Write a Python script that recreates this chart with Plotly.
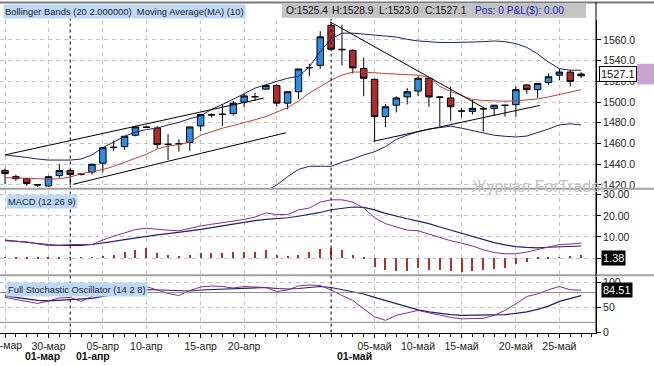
import plotly.graph_objects as go

# ---------------- data ----------------
open_ = [1434, 1428, 1426, 1420.2, 1419, 1429, 1434, 1430.5, 1432.5, 1441,
         1456, 1457, 1468, 1476, 1475, 1459, 1459.5, 1461, 1477, 1487.5,
         1488, 1489, 1500, 1505, 1512.5, 1516, 1499, 1510, 1533, 1535.5,
         1574, 1551, 1550, 1532.5, 1522, 1486, 1497, 1505, 1510.6, 1523,
         1505, 1504, 1491.5, 1491, 1493.7, 1493.7, 1497, 1497.5, 1516.6, 1512,
         1519, 1526, 1529, 1525.4]
high = [1436, 1430, 1426.5, 1421, 1429, 1440, 1435, 1431, 1440.5, 1456.5,
        1463, 1467, 1477, 1476.5, 1477, 1469, 1464, 1476, 1488, 1489,
        1498, 1501, 1508, 1509, 1516, 1517.5, 1510, 1532, 1537, 1568.5,
        1577, 1574.8, 1551, 1543, 1522.5, 1498, 1505.6, 1513.5, 1525, 1523.5,
        1505.3, 1515, 1494.6, 1502, 1494, 1497, 1497.5, 1515, 1517, 1518,
        1527.6, 1532, 1531, 1528.9]
low = [1421, 1424, 1419, 1418, 1418, 1427, 1420, 1429, 1430, 1432,
       1453, 1454, 1467, 1475, 1455, 1444, 1452, 1453, 1472, 1485,
       1477, 1487, 1495, 1501, 1512, 1495.5, 1493, 1503, 1525, 1532,
       1549, 1535.5, 1527.6, 1505.6, 1462, 1475.7, 1490, 1497.7, 1505.6, 1495.5,
       1476.7, 1482, 1485, 1488, 1471.6, 1486.7, 1486, 1486, 1508, 1504,
       1516.6, 1521, 1515, 1523.0]
close = [1431, 1426, 1421.5, 1420, 1428, 1434, 1430, 1430.3, 1440, 1456,
         1456.4, 1467, 1476, 1475.6, 1459, 1459.3, 1459.8, 1476, 1488, 1487.8,
         1488.3, 1499, 1506, 1505.3, 1516, 1499, 1510, 1532, 1533.4, 1563,
         1551, 1550.6, 1533, 1523, 1486, 1495.5, 1504, 1510, 1523, 1505,
         1504.6, 1495.5, 1491.3, 1494, 1493.5, 1497, 1496.8, 1512, 1512, 1518,
         1524.5, 1529, 1520, 1527.1]

ma10 = [1427, 1427, 1426.5, 1426, 1425.5, 1426, 1427.6, 1430.8, 1432.6, 1434.8,
        1438, 1442, 1445.8, 1449.6, 1454.7, 1457.5, 1459, 1461.6, 1467.9, 1471.6,
        1474.8, 1477.3, 1479.8, 1483, 1486, 1490, 1494.6, 1501, 1508.7, 1515,
        1521.3, 1526, 1529, 1529, 1528, 1527.6, 1527, 1526.7, 1526, 1523.8,
        1515, 1510.3, 1506.2, 1502.5, 1501.5, 1500.9, 1500.9, 1501.2, 1501.8, 1503,
        1505, 1507.2, 1509.4, 1512]
bb_upper = [1449, 1448, 1446.5, 1445, 1444, 1444, 1444, 1445, 1449, 1456,
            1461.6, 1467, 1471, 1473.5, 1474.8, 1478, 1480.4, 1484, 1486.7, 1493,
            1497.7, 1502.5, 1508, 1513.5, 1517, 1520, 1523, 1525, 1534, 1549,
            1561, 1566.5, 1566.6, 1566, 1564.7, 1563.8, 1562.8, 1560.6, 1559, 1558.4,
            1557.5, 1557.5, 1557.5, 1558, 1558.4, 1559, 1558.4, 1556.5, 1552.8, 1546.5,
            1538.6, 1532.3, 1530.8, 1530.8]
bb_lower = [1405, 1404, 1403, 1402, 1402, 1403, 1404, 1405, 1406, 1406,
            1406, 1405, 1404, 1404, 1405, 1406, 1407, 1408, 1409, 1410,
            1410, 1411, 1412, 1413, 1414, 1420, 1428, 1435, 1438, 1438,
            1438, 1442, 1445, 1449, 1452, 1457, 1464, 1468, 1471.6, 1474,
            1475.7, 1476.7, 1474.8, 1472.6, 1470.4, 1468, 1467, 1466.3, 1467.2, 1470.4,
            1474, 1478, 1479, 1478]

macd = [8.2, 7.9, 7.6, 6.7, 5.9, 6.0, 6.4, 6.4, 6.4, 8.5,
        10.4, 11.9, 13.5, 14.1, 13.5, 13.2, 12.9, 14.1, 15.2, 16.0,
        16.7, 17.5, 18.3, 19.4, 21.4, 20.6, 20.6, 22.8, 23.7, 26.5,
        27.6, 27.6, 26.5, 23.7, 19.1, 16.3, 14.7, 13.2, 12.9, 11.3,
        9.8, 8.2, 7.0, 5.7, 3.9, 2.6, 2.0, 2.0, 2.8, 3.9,
        5.1, 6.4, 6.6, 7.1]
signal = [8.5, 7.9, 7.3, 6.8, 6.4, 6.0, 5.9, 6.0, 6.4, 7.0,
          7.9, 8.7, 9.5, 10.4, 11.0, 11.6, 12.1, 12.9, 13.6, 14.4,
          15.3, 16.3, 17.1, 17.7, 18.3, 18.6, 19.1, 19.8, 20.6, 21.6,
          22.9, 23.7, 24.2, 24.0, 22.8, 21.2, 19.8, 18.6, 17.5, 16.3,
          14.7, 13.2, 11.6, 10.1, 8.5, 7.3, 6.2, 5.4, 5.0, 4.8,
          5.1, 5.4, 5.6, 5.7]
hist = [0.2, -0.3, -0.5, -0.6, -0.4, -0.2, 0.1, 0.2, 0.3, 1.0,
        1.5, 2.5, 3.5, 4.5, 2.0, 1.3, 0.8, 1.5, 2.2, 2.0,
        2.2, 2.8, 2.5, 2.8, 3.5, 1.5, 0.9, 1.5, 2.5, 4.0,
        4.5, 3.6, 1.5, -0.3, -4.2, -5.7, -6.5, -6.5, -5.0, -5.7,
        -5.7, -6.5, -7.0, -6.5, -5.7, -5.4, -5.0, -3.0, -1.9, -0.8,
        -0.3, 0.2, 0.4, 1.38]

stoch_k = [70, 66, 62, 58, 63, 69, 70, 62, 72, 80,
           86, 90, 92, 92, 85, 78, 74, 84, 91, 93,
           92, 89, 92, 91, 90, 82, 85, 93, 95, 94,
           85, 74, 64, 47, 31, 24, 34, 39, 44, 39,
           34, 30, 27, 27, 28, 34, 44, 57, 72, 77,
           85.5, 92, 85.5, 84.51]
stoch_d = [73, 70, 67, 64, 63, 64, 66, 66, 68, 72,
           76, 80, 84, 86, 85, 84, 83, 83, 85, 86,
           87, 88, 89, 89, 90, 88, 87, 88, 90, 92,
           90, 85.5, 81.6, 77, 70, 64, 57, 51, 45, 41,
           37.5, 35.5, 34, 34, 34, 35, 35.5, 38, 41, 46,
           52.6, 62, 68.4, 73.7]

tick_idx = [0, 4, 9, 13, 18, 22, 25, 34, 38, 42, 47, 51]
tick_text = ["25-мар", "30-мар", "05-апр", "10-апр", "15-апр", "20-апр", "",
             "05-май", "10-май", "15-май", "20-май", "25-май"]
month_idx = [1.3, 6, 30]
month_text = ["01-мар", "01-апр", "01-май"]
month_line_idx = [6, 30]

price_ticks = [1420, 1440, 1460, 1480, 1500, 1520, 1540, 1560]
macd_ticks = [0, 10, 20, 30]
stoch_ticks = [0, 50, 100]
stoch_levels = [20, 80]

trend_x = [[0, 23.8], [6.3, 25.85], [29.9, 44.3], [33.9, 49.2]]
trend_y = [[1449, 1503.8], [1420.7, 1470.4], [1577.5, 1493], [1462.2, 1496.8]]

info_items = ["O:1525.4", "H:1528.9", "L:1523.0", "C:1527.1", "Pos: 0 P&amp;L($): 0.00"]
info_colors = ["#111", "#111", "#111", "#111", "#2323b8"]
info_px = [285, 331, 378, 424, 474]

# ---------------- layout helpers ----------------
W, H = 654, 366
PR = 596  # right edge of plotting area (px)


def py(px):
    return 1 - px / H


idx = list(range(len(close)))
FONT = "Liberation Sans, Arial, sans-serif"
GRID = "#c6c6c6"
NAVY = "#1f1f78"
PURPLE = "#8a2a8e"

fig = go.Figure()

fig.add_trace(go.Candlestick(
    x=idx, open=open_, high=high, low=low, close=close,
    increasing=dict(fillcolor="#2c8fe6", line=dict(color="black", width=1)),
    decreasing=dict(fillcolor="#b02c2c", line=dict(color="black", width=1)),
    xaxis="x", yaxis="y", hoverinfo="skip", showlegend=False))

fig.add_trace(go.Scatter(x=idx, y=bb_upper, mode="lines", line=dict(color=NAVY, width=1),
                         xaxis="x", yaxis="y", hoverinfo="skip"))
fig.add_trace(go.Scatter(x=idx, y=bb_lower, mode="lines", line=dict(color=NAVY, width=1),
                         xaxis="x", yaxis="y", hoverinfo="skip"))
fig.add_trace(go.Scatter(x=idx, y=ma10, mode="lines", line=dict(color="#c0403a", width=1),
                         xaxis="x", yaxis="y", hoverinfo="skip"))
for tx, ty in zip(trend_x, trend_y):
    fig.add_trace(go.Scatter(x=tx, y=ty, mode="lines", line=dict(color="black", width=1),
                             xaxis="x", yaxis="y", hoverinfo="skip"))

# MACD panel
fig.add_trace(go.Bar(x=idx, y=hist, width=0.1, marker=dict(color="#b0302c", line=dict(width=0)),
                     xaxis="x2", yaxis="y2", hoverinfo="skip"))
fig.add_trace(go.Scatter(x=idx, y=signal, mode="lines", line=dict(color=NAVY, width=1.2),
                         xaxis="x2", yaxis="y2", hoverinfo="skip"))
fig.add_trace(go.Scatter(x=idx, y=macd, mode="lines", line=dict(color=PURPLE, width=1),
                         xaxis="x2", yaxis="y2", hoverinfo="skip"))

# Stochastic panel
fig.add_trace(go.Scatter(x=idx, y=stoch_d, mode="lines", line=dict(color=NAVY, width=1.2),
                         xaxis="x3", yaxis="y3", hoverinfo="skip"))
fig.add_trace(go.Scatter(x=idx, y=stoch_k, mode="lines", line=dict(color=PURPLE, width=1),
                         xaxis="x3", yaxis="y3", hoverinfo="skip"))

x_range = [-5 / 10.87, (PR - 5) / 10.87]
xdom = [0, PR / W]
ppu = 1.0557
main_range = [1560 - (190 - 38.7) / ppu, 1560 + (38.7 - 18) / ppu]
macd_range = [(261 - 277) / 2.15, (261 - 192) / 2.15]
stoch_range = [(336.7 - 337) / 0.507, (336.7 - 280) / 0.507]

common_x = dict(domain=xdom, range=x_range, tickmode="array", tickvals=tick_idx,
                showgrid=True, gridcolor=GRID, griddash="4px,4px", gridwidth=1,
                zeroline=False, fixedrange=True)
tickfont = dict(family=FONT, size=10.5, color="#222")
common_y = dict(side="right", showline=True, linecolor="black", linewidth=1,
                ticks="outside", ticklen=4, tickcolor="black", tickfont=tickfont,
                showgrid=True, gridcolor=GRID, griddash="4px,4px", zeroline=False,
                tickmode="array")

fig.update_layout(
    width=W, height=H, margin=dict(l=0, r=0, t=0, b=0),
    paper_bgcolor="white", plot_bgcolor="white", showlegend=False,
    boxgap=0.15, bargap=0,
    font=dict(family=FONT, size=11, color="#222"),
    xaxis=dict(**common_x, anchor="y", showticklabels=False, ticks="",
               rangeslider=dict(visible=False)),
    xaxis2=dict(**common_x, anchor="y2", matches="x", showticklabels=False, ticks=""),
    xaxis3=dict(**common_x, anchor="y3", matches="x", ticktext=[""] + tick_text[1:],
                showticklabels=True, ticks="outside", ticklen=4, tickcolor="black",
                showline=True, linecolor="black", tickfont=tickfont,
                minor=dict(tickmode="linear", tick0=0, dtick=1, ticks="outside",
                           ticklen=3, tickcolor="black", showgrid=False)),
    yaxis=dict(**common_y, domain=[py(190), py(18)], range=main_range, anchor="x",
               tickvals=price_ticks, tickformat=".1f"),
    yaxis2=dict(**common_y, domain=[py(277), py(192)], range=macd_range, anchor="x2",
                tickvals=macd_ticks, tickformat=".2f"),
    yaxis3=dict(**common_y, domain=[py(337), py(280)], range=stoch_range, anchor="x3",
                tickvals=stoch_ticks, tickformat="d"),
)

shapes = []
# month-start dashed lines
for m in month_line_idx:
    shapes.append(dict(type="line", xref="x", yref="paper", x0=m, x1=m, y0=py(337), y1=py(17),
                       line=dict(color="black", width=1, dash="3px,3px")))
# stochastic 20/80 levels
for lv in stoch_levels:
    shapes.append(dict(type="line", xref="paper", yref="y3", x0=0, x1=PR / W, y0=lv, y1=lv,
                       line=dict(color="#8c8c8c", width=1)))
# panel separators and frame
for yy in [190.5, 278.5]:
    shapes.append(dict(type="line", xref="paper", yref="paper", x0=0, x1=1, y0=py(yy), y1=py(yy),
                       line=dict(color="#a0a0a0", width=2)))
shapes.append(dict(type="line", xref="paper", yref="paper", x0=0, x1=1, y0=py(0.5), y1=py(0.5),
                   line=dict(color="#7a7a7a", width=2)))
shapes.append(dict(type="line", xref="paper", yref="paper", x0=PR / W, x1=PR / W, y0=py(337), y1=1,
                   line=dict(color="black", width=1)))
# pink marker next to price label
shapes.append(dict(type="rect", xref="paper", yref="paper", x0=637 / W, x1=1, y0=py(84), y1=py(63),
                   fillcolor="#c9a2d2", line=dict(width=0), layer="above"))
# info bar background
shapes.append(dict(type="rect", xref="paper", yref="paper", x0=282 / W, x1=586 / W, y0=py(16), y1=py(1),
                   fillcolor="#c3c3c3", line=dict(width=0), layer="above"))
fig.update_layout(shapes=shapes)

LEG_BG = "#bdd8f3"
LEG_FONT = dict(family=FONT, size=9.4, color="#1c1c3c")
NB = "\u00a0"
ann = []
ann.append(dict(xref="paper", yref="paper", x=3 / W, y=py(2), xanchor="left", yanchor="top",
                text="Bollinger Bands (20 2.000000)" + NB * 2 + "Moving Average(MA) (10)",
                showarrow=False, bgcolor=LEG_BG, borderpad=1, font=LEG_FONT))
for t, c, xp in zip(info_items, info_colors, info_px):
    ann.append(dict(xref="paper", yref="paper", x=xp / W, y=py(8.5), xanchor="left", yanchor="middle",
                    text=t, showarrow=False, borderpad=0,
                    font=dict(family=FONT, size=10.2, color=c)))
ann.append(dict(xref="paper", yref="paper", x=6 / W, y=py(196), xanchor="left", yanchor="top",
                text="MACD (12 26 9)", showarrow=False, bgcolor=LEG_BG, borderpad=1, font=LEG_FONT))
ann.append(dict(xref="paper", yref="paper", x=6 / W, y=py(285.5), xanchor="left", yanchor="top",
                text="Full Stochastic Oscillator (14 2 8)", showarrow=False, bgcolor=LEG_BG,
                borderpad=1, font=LEG_FONT))
# watermark
ann.append(dict(xref="paper", yref="paper", x=470 / W, y=py(188), xanchor="left", yanchor="middle",
                text="Журнал ForTrader", showarrow=False,
                font=dict(family=FONT, size=16, color="#c4c4c4")))
# last value labels
ann.append(dict(xref="paper", yref="y", x=599 / W, y=close[-1], xanchor="left", yanchor="middle",
                text=f"{close[-1]:.1f}", showarrow=False, bgcolor="white", bordercolor="black",
                borderwidth=1, borderpad=1, font=dict(family=FONT, size=11, color="#111")))
ann.append(dict(xref="paper", yref="y2", x=601 / W, y=hist[-1] - 1.4, xanchor="left", yanchor="middle",
                text=f"{hist[-1]:.2f}", showarrow=False, bgcolor="black", borderpad=1,
                font=dict(family=FONT, size=11, color="white")))
ann.append(dict(xref="paper", yref="y3", x=601 / W, y=stoch_k[-1], xanchor="left", yanchor="middle",
                text=f"{stoch_k[-1]:.2f}", showarrow=False, bgcolor="black", borderpad=1,
                font=dict(family=FONT, size=11, color="white")))
# first (partly cut) date label at the left edge
ann.append(dict(xref="x3", yref="paper", x=tick_idx[0], y=py(349.5), xanchor="center", yanchor="middle",
                text=tick_text[0], showarrow=False, font=tickfont))
# month labels (bold second row)
for mi, mt in zip(month_idx, month_text):
    ann.append(dict(xref="x3", yref="paper", x=mi, y=py(360.5), xanchor="left", yanchor="middle",
                    xshift=4, text=f"<b>{mt}</b>", showarrow=False,
                    font=dict(family=FONT, size=10.5, color="#111")))
fig.update_layout(annotations=ann)

fig.write_html("out.html", config={"displayModeBar": False},
               post_script="document.body.style.margin='0px';document.body.style.overflow='hidden';")
